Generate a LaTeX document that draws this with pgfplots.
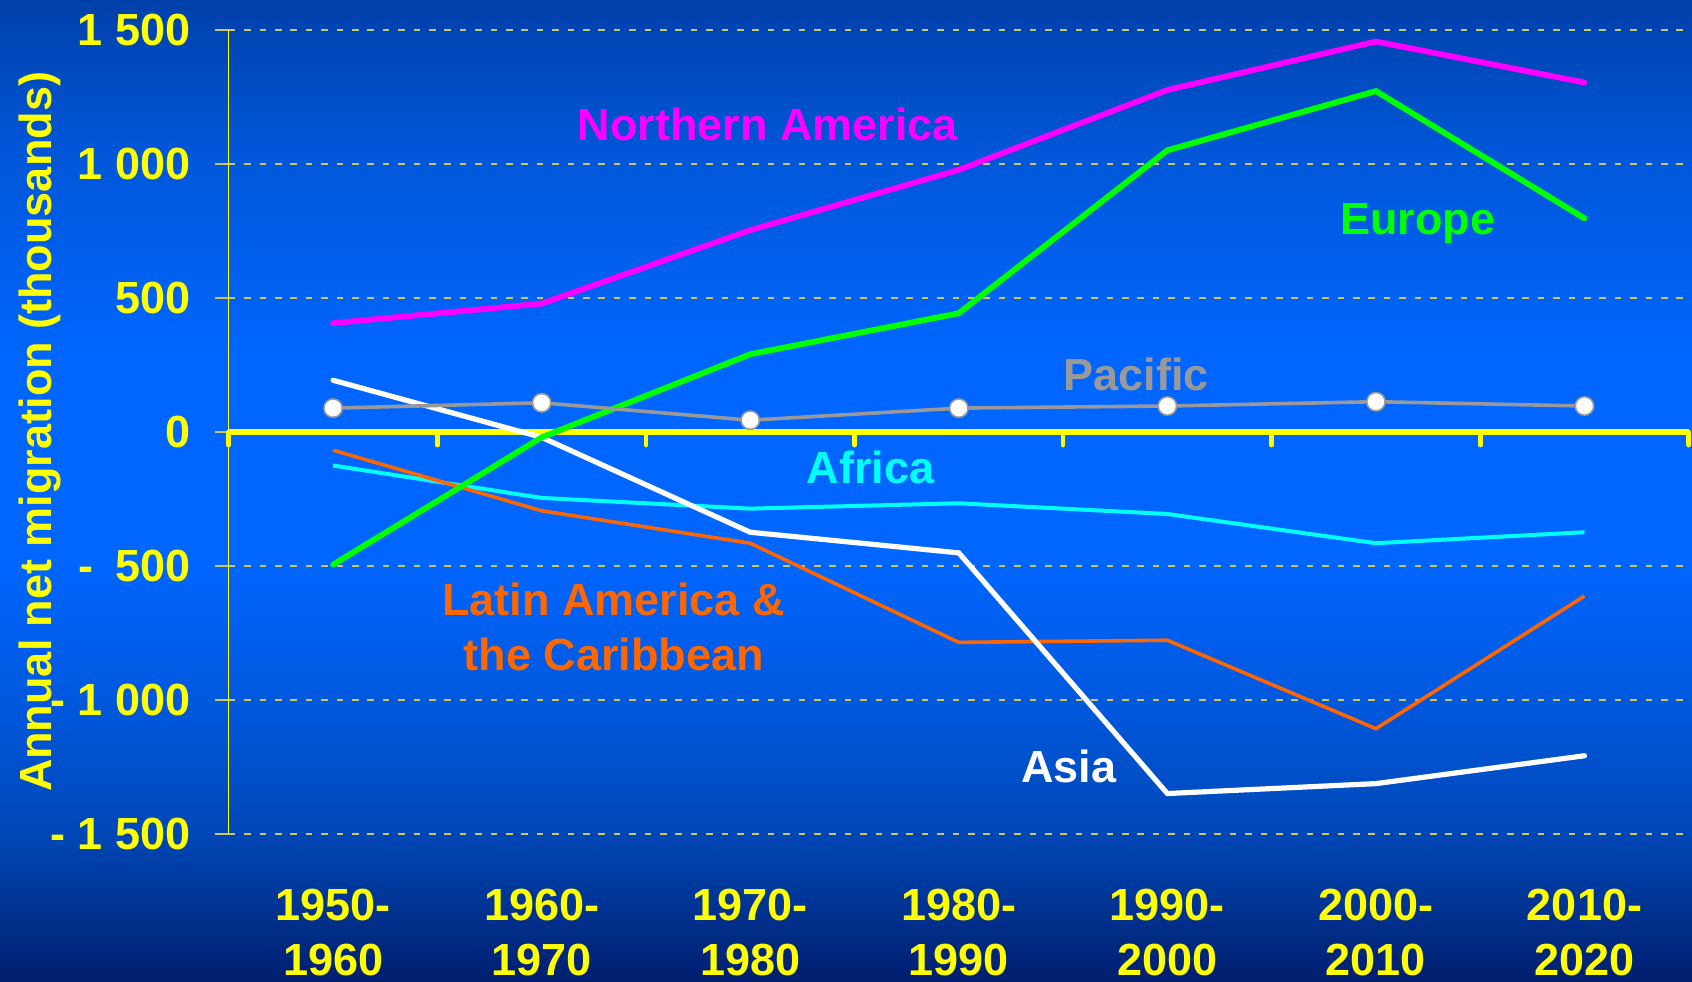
\documentclass[border=0pt]{standalone}
\usepackage{pgfplots}
\pgfplotsset{compat=1.18}
\usepackage{pgfplotstable}
\usepackage{fontspec}
\setmainfont{Liberation Sans}

\definecolor{bgA}{RGB}{0,30,110}
\definecolor{bgB}{RGB}{0,72,184}
\definecolor{bgB2}{RGB}{0,88,222}
\definecolor{bgC}{RGB}{0,102,255}
\definecolor{bgD}{RGB}{0,86,215}
\definecolor{bgE}{RGB}{0,64,170}
\definecolor{gridc}{RGB}{200,200,110}
\definecolor{ylw}{RGB}{255,255,0}
\definecolor{mag}{RGB}{255,0,255}
\definecolor{grn}{RGB}{0,255,0}
\definecolor{pacg}{RGB}{153,153,153}
\definecolor{cyn}{RGB}{0,255,255}
\definecolor{org}{RGB}{255,102,0}

\pgfdeclareverticalshading{bg}{100bp}{color(0bp)=(bgA); color(25bp)=(bgA); color(32.75bp)=(bgB); color(39.35bp)=(bgB2); color(46.5bp)=(bgC); color(57bp)=(bgC); color(67.5bp)=(bgD); color(75bp)=(bgE); color(100bp)=(bgE)}

\pgfplotstableread{
x na eu pac asia afr lat
0 406 -495 89 193 -125 -68
1 479 -20 109 -20 -246 -294
2 753 290 44 -374 -286 -415
3 978 443 89 -451 -266 -785
4 1276 1051 97 -1349 -306 -777
5 1457 1272 113 -1312 -415 -1107
6 1304 797 97 -1208 -374 -612
}\data

\newcommand{\bigf}{\fontsize{22.5bp}{27.5bp}\selectfont\bfseries}

\begin{document}
\begin{tikzpicture}
\shade[shading=bg] (0,0) rectangle (846bp,491bp);
\useasboundingbox (0,0) rectangle (846bp,491bp);
\begin{axis}[
  at={(114.4bp,74bp)}, anchor=south west,
  scale only axis, width=730bp, height=402bp,
  xmin=-0.5, xmax=6.5, ymin=-1500, ymax=1500,
  axis x line*=bottom, axis y line*=left,
  x axis line style={draw=none},
  y axis line style={ylw, line width=0.6bp},
  xtick={0,...,6},
  xticklabels={{1950-\\1960},{1960-\\1970},{1970-\\1980},{1980-\\1990},{1990-\\2000},{2000-\\2010},{2010-\\2020}},
  xtick style={draw=none},
  xticklabel style={align=center, font=\bigf, text=ylw, inner sep=0pt, yshift=-20.5bp},
  ytick={-1500,-1000,-500,0,500,1000,1500},
  yticklabels={{-\ 1\ 500},{-\ 1\ 000},{-\hspace{0.49em}500},{0},{500},{1\ 000},{1\ 500}},
  yticklabel style={font=\bigf, text=ylw, inner sep=0pt, xshift=-12bp},
  ytick style={gridc, line width=0.6bp},
  tick align=outside, major tick length=7bp,
  ymajorgrids,
  grid style={gridc, line width=0.6bp, dash pattern=on 3.3bp off 4.4bp},
  ylabel={Annual net migration (thousands)},
  ylabel style={font=\bigf, text=ylw, at={(axis description cs:-0.1293,0.5)}, anchor=center, rotate=0},
  clip=false,
]
\draw[ylw, line width=2.8bp] (axis cs:-0.5,0) -- (axis cs:6.5,0);
\pgfplotsinvokeforeach{-0.5,0.5,1.5,2.5,3.5,4.5,5.5,6.5}{
  \draw[ylw, line width=2.4bp, line cap=round] (axis cs:#1,0) -- ([yshift=-6.5bp]axis cs:#1,0);
}
\addplot[cyn, line width=2.0bp, no markers] table[x=x,y=afr]{\data};
\addplot[org, line width=1.8bp, no markers] table[x=x,y=lat]{\data};
\addplot[white, line width=2.6bp, no markers, line cap=round] table[x=x,y=asia]{\data};
\addplot[grn, line width=2.9bp, no markers, line cap=round] table[x=x,y=eu]{\data};
\addplot[mag, line width=2.9bp, no markers, line cap=round] table[x=x,y=na]{\data};
\addplot[pacg, line width=1.8bp, mark=*, mark size=4.6bp, mark options={fill=white, draw=pacg, line width=0.8bp}] table[x=x,y=pac]{\data};

\node[font=\bigf, text=mag] at (axis cs:2.085,1147) {Northern America};
\node[font=\bigf, text=grn] at (axis cs:5.2,777) {Europe};
\node[font=\bigf, text=pacg] at (axis cs:3.85,213) {Pacific};
\node[font=\bigf, text=cyn] at (axis cs:2.576,-133) {Africa};
\node[font=\bigf, text=org, align=center] at (axis cs:1.345,-729) {Latin America \&\\the Caribbean};
\node[font=\bigf, text=white] at (axis cs:3.528,-1248) {Asia};
\end{axis}
\end{tikzpicture}
\end{document}
